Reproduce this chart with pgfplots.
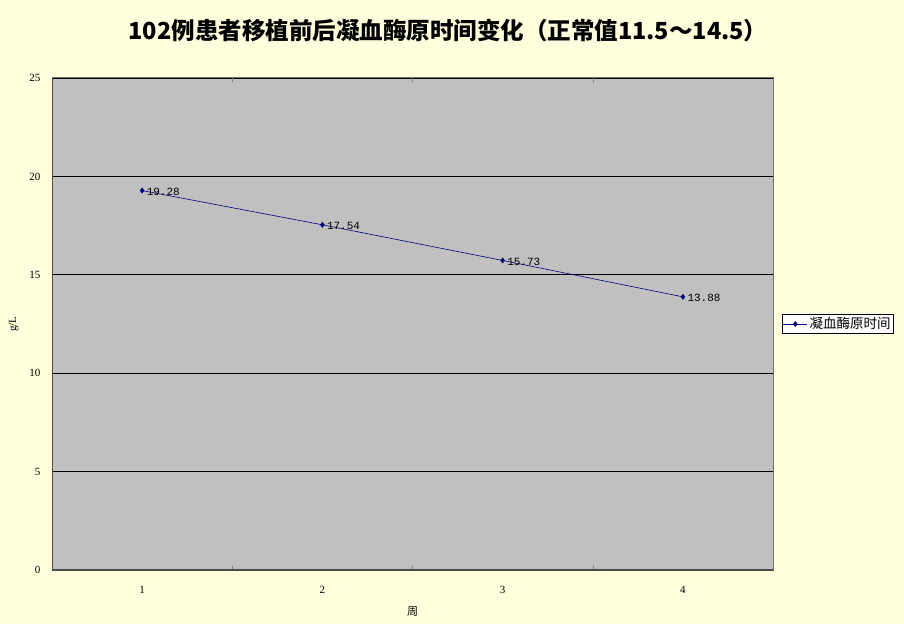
\documentclass[border=0pt]{standalone}
\usepackage{fontspec}
\setmainfont{Liberation Serif}
\newfontfamily\cjk{Noto Sans CJK SC}
\newfontfamily\mono{Liberation Mono}
\usepackage{pgfplots}
\pgfplotsset{compat=1.18}
\definecolor{paper}{RGB}{255,255,222}
\definecolor{plotgray}{RGB}{192,192,192}
\definecolor{serieblue}{RGB}{0,0,128}
\begin{document}
\begin{tikzpicture}[x=1pt,y=1pt]
\useasboundingbox (0,0) rectangle (904,624);
\fill[paper] (0,0) rectangle (904,624);
\node[font=\cjk\bfseries\fontsize{23.5}{26}\selectfont] at (448,593) {102例患者移植前后凝血酶原时间变化（正常值11.5～14.5）};
\begin{axis}[
  at={(52pt,54pt)}, anchor=south west,
  scale only axis, width=721pt, height=492pt,
  xmin=0.5, xmax=4.5, ymin=0, ymax=25,
  xtick={1,2,3,4}, major x tick style={draw=none},
  minor xtick={1.5,2.5,3.5}, minor tick length=4pt,
  ytick={0,5,10,15,20,25}, major y tick style={draw=none},
  ymajorgrids, grid style={black, line width=0.8pt},
  axis background/.style={fill=plotgray},
  axis line style={draw=black!55, line width=1pt},
  tick label style={font=\fontsize{11}{12}\selectfont},
  /pgf/number format/assume math mode=true,
  xticklabel style={yshift=-13pt},
  yticklabel style={xshift=-8pt},
  xlabel={\cjk 周}, xlabel style={font=\fontsize{11}{12}\selectfont, yshift=-6pt},
  ylabel={g/L}, ylabel style={font=\fontsize{11}{12}\selectfont, yshift=4pt},
  legend style={at={(1.012,0.5)}, anchor=west, fill=white, draw=black,
    font=\cjk\fontsize{13.5}{15}\selectfont, inner sep=1pt, row sep=0pt},
  legend image code/.code={
    \draw[#1, line width=0.8pt] (0pt,0pt) -- (24pt,0pt);
    \draw[#1, mark repeat=1] plot[mark=diamond*] coordinates {(12pt,0pt)};},
  legend cell align=left,
]
\addplot[serieblue, line width=0.6pt, mark=diamond*, mark size=2.5pt,
  mark options={fill=serieblue},
  nodes near coords, point meta=explicit symbolic,
  nodes near coords style={anchor=west, black, xshift=1pt, yshift=-1pt, font=\mono\fontsize{11}{12}\selectfont}]
  table[meta=label] {
x y label
1 19.28 19.28
2 17.54 17.54
3 15.73 15.73
4 13.88 13.88
};
\addlegendentry{凝血酶原时间}
\draw[black!70, line width=1.2pt] (axis cs:0.5,25) -- (axis cs:0.5,0) -- (axis cs:4.5,0);
\end{axis}
\end{tikzpicture}
\end{document}
